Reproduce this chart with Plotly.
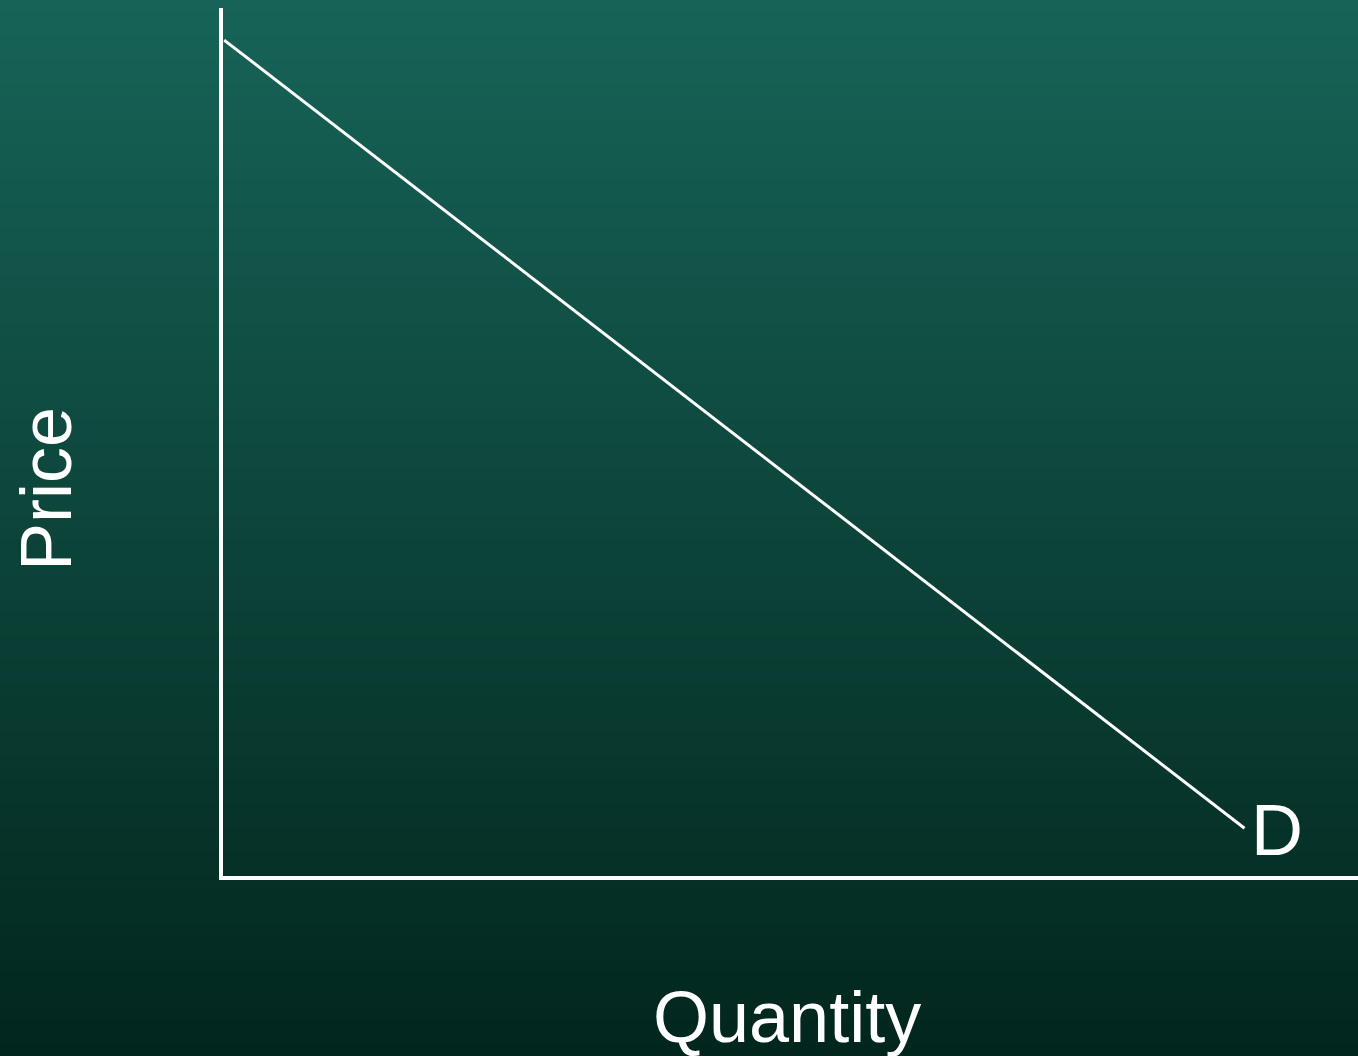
import plotly.graph_objects as go

# Data
quantity = [0.01, 9.0]
price = [9.63, 0.55]
curve_label = "D"
x_title = "Quantity"
y_title = "Price"

W, H = 1358, 1056
L, R, T, B = 223, 0, 8, 180
pw, ph = W - L - R, H - T - B

def px_to_paper(px, py):
    return (px - L) / pw, (H - B - py) / ph

fig = go.Figure()
fig.add_trace(go.Scatter(x=quantity, y=price, mode="lines",
                         line=dict(color="white", width=3), hoverinfo="skip"))

# gradient background
top = (23, 99, 87)
bot = (2, 38, 29)
n = 88
shapes = []
for i in range(n):
    f = i / (n - 1)
    c = tuple(round(top[k] + (bot[k] - top[k]) * f) for k in range(3))
    y0 = i * H / n
    y1 = (i + 1) * H / n + 1
    x0p, y0p = px_to_paper(-2, y0)
    x1p, y1p = px_to_paper(W + 2, y1)
    shapes.append(dict(type="rect", xref="paper", yref="paper", x0=x0p, x1=x1p,
                       y0=y1p, y1=y0p, fillcolor="rgb(%d,%d,%d)" % c,
                       line=dict(width=0), layer="below"))

font = dict(family="Liberation Sans, Arial, sans-serif", size=72, color="white")
ann = []
dx, dy = px_to_paper(1277, 830)
ann.append(dict(x=dx, y=dy, xref="paper", yref="paper", text=curve_label, showarrow=False,
                xanchor="center", yanchor="middle", font=font))
qx, qy = px_to_paper(787, 1017)
ann.append(dict(x=qx, y=qy, xref="paper", yref="paper", text=x_title, showarrow=False,
                xanchor="center", yanchor="middle", font=font))
prx, pry = px_to_paper(46, 489)
ann.append(dict(x=prx, y=pry, xref="paper", yref="paper", text=y_title, showarrow=False,
                xanchor="center", yanchor="middle", textangle=-90, font=font))

fig.update_layout(
    width=W, height=H,
    margin=dict(l=L, r=R, t=T, b=B, pad=0),
    paper_bgcolor="rgb(13,70,58)", plot_bgcolor="rgba(0,0,0,0)",
    showlegend=False,
    shapes=shapes, annotations=ann,
    xaxis=dict(range=[0, 10], showgrid=False, zeroline=False, showticklabels=False,
               ticks="", showline=True, linecolor="white", linewidth=4, fixedrange=True),
    yaxis=dict(range=[0, 10], showgrid=False, zeroline=False, showticklabels=False,
               ticks="", showline=True, linecolor="white", linewidth=4, fixedrange=True),
)
fig.write_html("out.html", config={"displayModeBar": False},
               post_script="document.body.style.margin='0';document.body.style.overflow='hidden';")
